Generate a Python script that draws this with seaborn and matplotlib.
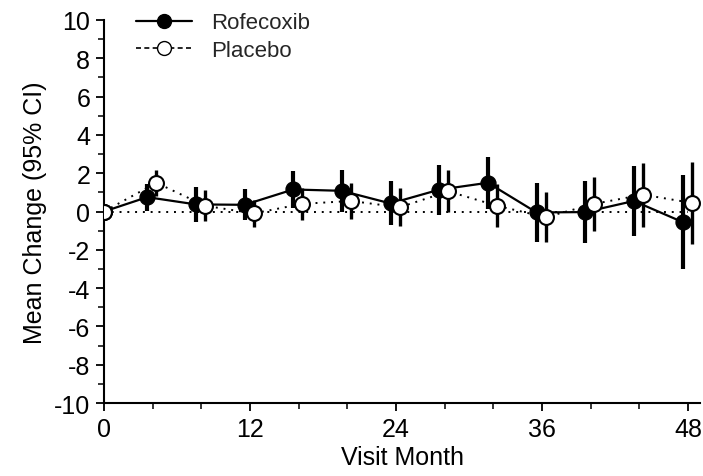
import matplotlib
matplotlib.use("Agg")
import matplotlib.pyplot as plt
from matplotlib.lines import Line2D
from matplotlib.ticker import MultipleLocator
import numpy as np
import pandas as pd
import seaborn as sns

# ---- data ----
months = [0, 4, 8, 12, 16, 20, 24, 28, 32, 36, 40, 44, 48]
rof_mean = [0.0, 0.75, 0.37, 0.35, 1.15, 1.08, 0.42, 1.14, 1.50, -0.05, -0.03, 0.55, -0.55]
rof_half = [0.0, 0.70, 0.90, 0.80, 0.95, 1.10, 1.15, 1.30, 1.35, 1.52, 1.60, 1.85, 2.45]
pla_mean = [0.0, 1.50, 0.30, -0.10, 0.40, 0.55, 0.22, 1.05, 0.30, -0.30, 0.40, 0.88, 0.45]
pla_half = [0.0, 0.67, 0.80, 0.70, 0.85, 0.93, 1.00, 1.10, 1.13, 1.30, 1.42, 1.67, 2.13]

series_names = ["Rofecoxib", "Placebo"]
x_label = "Visit Month"
y_label = "Mean Change (95% CI)"

sns.set_theme(style="ticks")
plt.rcParams["font.family"] = ["Liberation Sans", "DejaVu Sans"]
plt.rcParams["axes.unicode_minus"] = False

fig = plt.figure(figsize=(7.03, 4.77), dpi=100)
ax = fig.add_axes([0.148, 0.153, 0.848, 0.803])

m = np.array(months, dtype=float)
rof_x = np.where(m == 0, 0, m - 0.45)
pla_x = np.where(m == 0, 0, m + 0.3)

df_r = pd.DataFrame({"x": rof_x, "y": rof_mean})
df_p = pd.DataFrame({"x": pla_x, "y": pla_mean})

# reference line at zero
ax.plot([0, 48], [0, 0], color="black", lw=1.4, ls=(0, (1, 3)), zorder=1)

# placebo
sns.lineplot(data=df_p, x="x", y="y", ax=ax, color="black", lw=1.4,
             linestyle=(0, (1, 3)), sort=False, zorder=2)
ax.errorbar(pla_x, pla_mean, yerr=pla_half, fmt="none", ecolor="black",
            elinewidth=2.4, capsize=0, zorder=3)
sns.scatterplot(data=df_p, x="x", y="y", ax=ax, s=115, color="white",
                edgecolor="black", linewidth=1.5, zorder=6)

# rofecoxib
sns.lineplot(data=df_r, x="x", y="y", ax=ax, color="black", lw=1.6,
             sort=False, zorder=4)
ax.errorbar(rof_x, rof_mean, yerr=rof_half, fmt="none", ecolor="black",
            elinewidth=3.0, capsize=0, zorder=4)
sns.scatterplot(data=df_r, x="x", y="y", ax=ax, s=115, color="black",
                edgecolor="black", linewidth=1.0, zorder=5)
# both series start at 0: the open circle is on top
ax.scatter([0], [0], s=115, color="white", edgecolor="black", linewidth=1.5, zorder=7)

ax.set_xlim(0, 49)
ax.set_ylim(-10, 10)
ax.xaxis.set_major_locator(MultipleLocator(12))
ax.xaxis.set_minor_locator(MultipleLocator(4))
ax.yaxis.set_major_locator(MultipleLocator(2))
ax.yaxis.set_minor_locator(MultipleLocator(1))
ax.tick_params(axis="both", which="major", length=6, width=1.3, labelsize=18,
               color="black", labelcolor="black", pad=4)
ax.tick_params(axis="both", which="minor", length=4, width=1.1, color="black")
for s in ["top", "right"]:
    ax.spines[s].set_visible(False)
for s in ["left", "bottom"]:
    ax.spines[s].set_linewidth(1.5)
    ax.spines[s].set_color("black")

ax.set_xlabel(x_label, fontsize=18, color="black", labelpad=3)
ax.set_ylabel(y_label, fontsize=18, color="black", labelpad=5)

handles = [
    Line2D([], [], color="black", lw=1.6, marker="o", markersize=10,
           markerfacecolor="black", markeredgecolor="black"),
    Line2D([], [], color="black", lw=1.2, ls=(0, (3, 2)), marker="o", markersize=10,
           markerfacecolor="white", markeredgecolor="black"),
]
ax.legend(handles, series_names, loc="upper left", bbox_to_anchor=(0.02, 1.072),
          frameon=False, fontsize=16, handlelength=2.5, labelspacing=0.3,
          handletextpad=0.9)

fig.savefig("out.png", dpi=100)
